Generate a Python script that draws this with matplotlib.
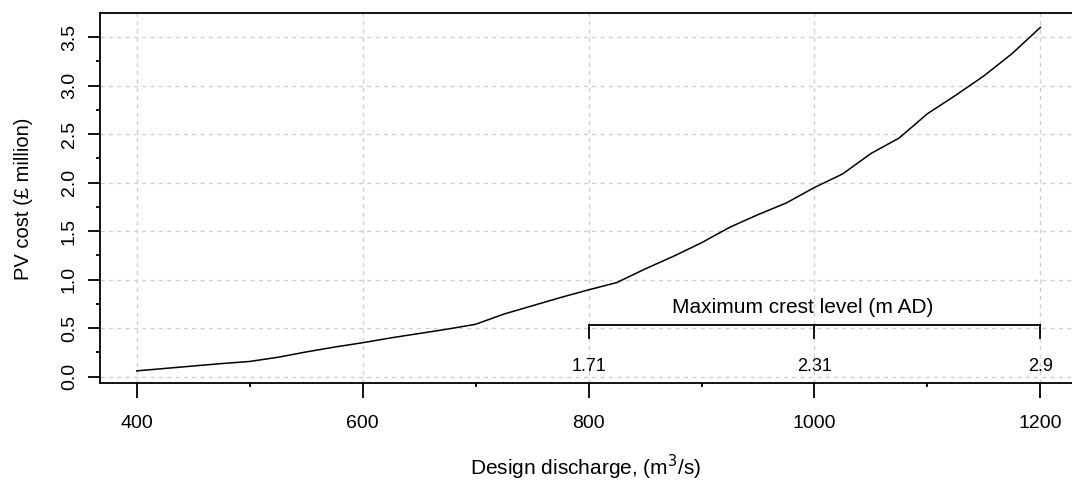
import matplotlib
matplotlib.use("Agg")
import matplotlib.pyplot as plt
from matplotlib.ticker import MultipleLocator

plt.rcParams['font.family'] = ['Liberation Sans', 'DejaVu Sans']

# Design discharge (m3/s) and present-value cost (£ million)
discharge = [400, 425, 450, 475, 500, 525, 550, 575, 600, 625, 650, 675, 700,
             725, 750, 775, 800, 825, 850, 875, 900, 925, 950, 975, 1000,
             1025, 1050, 1075, 1100, 1125, 1150, 1175, 1200]
pv_cost = [0.06, 0.085, 0.11, 0.135, 0.157, 0.20, 0.255, 0.305, 0.35, 0.40,
           0.445, 0.49, 0.54, 0.645, 0.73, 0.815, 0.895, 0.97, 1.11, 1.24,
           1.38, 1.54, 1.67, 1.79, 1.95, 2.09, 2.30, 2.46, 2.71, 2.90, 3.10,
           3.33, 3.60]

# Maximum crest level scale shown inside the plot
crest_x = [800, 1000, 1200]
crest_labels = ['1.71', '2.31', '2.9']
crest_title = 'Maximum crest level (m AD)'

x_ticks = [400, 600, 800, 1000, 1200]
y_ticks = [0.0, 0.5, 1.0, 1.5, 2.0, 2.5, 3.0, 3.5]

fig = plt.figure(figsize=(10.72, 4.82), dpi=100)
ax = fig.add_axes([0.0933, 0.2044, 0.9067, 0.768])

ax.plot(discharge, pv_cost, color='black', lw=1.1, zorder=3)

ax.set_xlim(367.5, 1228)
ax.set_ylim(-0.07, 3.745)

ax.set_xticks(x_ticks)
ax.set_yticks(y_ticks)
ax.xaxis.set_minor_locator(MultipleLocator(100))
ax.yaxis.set_minor_locator(MultipleLocator(0.25))
ax.set_yticklabels([f'{v:.1f}' for v in y_ticks], rotation=90, va='center')
ax.tick_params(axis='x', which='major', length=11, width=1.3, labelsize=14, pad=12)
ax.tick_params(axis='y', which='major', length=9, width=1.3, labelsize=14, pad=7)
ax.tick_params(which='minor', length=3, width=1.3)

ax.spines['right'].set_visible(False)
for side in ('left', 'top', 'bottom'):
    ax.spines[side].set_linewidth(1.3)

ax.grid(True, which='major', color='#d0d0d0', linestyle=(0, (3, 3)), lw=1)
ax.set_axisbelow(True)

# crest level bracket
bar_y = 0.53
tick_bottom = 0.40
ax.plot([crest_x[0], crest_x[-1]], [bar_y, bar_y], color='black', lw=1.3, zorder=3)
for cx, lab in zip(crest_x, crest_labels):
    ax.plot([cx, cx], [bar_y, tick_bottom], color='black', lw=1.3, zorder=3)
    ax.text(cx, 0.11, lab, ha='center', va='center', fontsize=13)
ax.text(990, 0.71, crest_title, ha='center', va='center', fontsize=15)

ax.set_xlabel(r'Design discharge, (m$^3$/s)', fontsize=15)
ax.set_ylabel('PV cost (£ million)', fontsize=14.5)
ax.xaxis.set_label_coords(0.5, -0.188)
ax.yaxis.set_label_coords(-0.069, 0.5)

fig.savefig('out.png', dpi=100)
